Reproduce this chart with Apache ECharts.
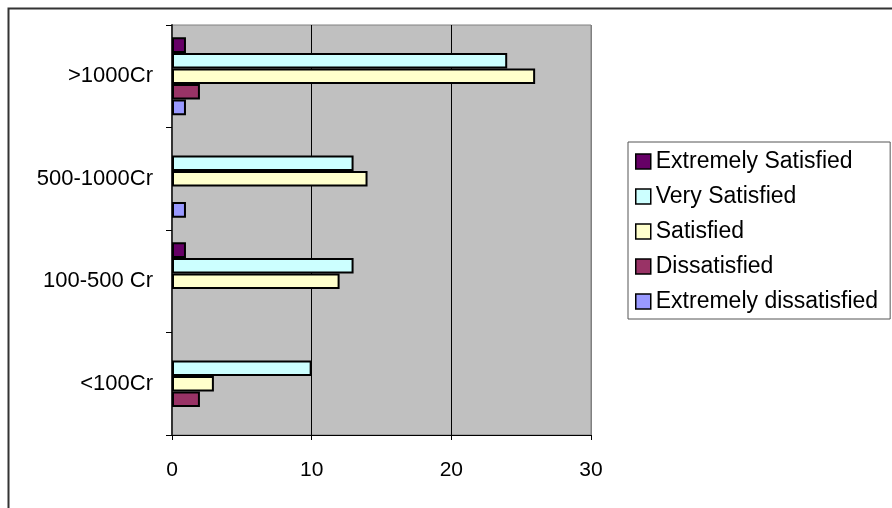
<!DOCTYPE html>
<html>
<head>
<meta charset="utf-8">
<script src="https://cdn.jsdelivr.net/npm/echarts@6/dist/echarts.min.js"></script>
<style>
  html, body { margin: 0; padding: 0; background: #ffffff; }
  #chart { width: 892px; height: 508px; }
</style>
</head>
<body>
<div id="chart"></div>
<script>
// Company turnover bands, listed bottom to top along the category axis
var categories = ['<100Cr', '100-500 Cr', '500-1000Cr', '>1000Cr'];

// Number of respondents per satisfaction level, in the order of categories
var extremelySatisfied    = [0, 1, 0, 1];
var verySatisfied         = [10, 13, 13, 24];
var satisfied             = [3, 12, 14, 26];
var dissatisfied          = [2, 0, 0, 2];
var extremelyDissatisfied = [0, 0, 1, 1];

var valueTicks = [0, 10, 20, 30];

// Series order runs top to bottom inside each group, same as the legend
var seriesDefs = [
  { name: 'Extremely Satisfied',    data: extremelySatisfied,    color: '#660066' },
  { name: 'Very Satisfied',         data: verySatisfied,         color: '#CCFFFF' },
  { name: 'Satisfied',              data: satisfied,             color: '#FFFFCC' },
  { name: 'Dissatisfied',           data: dissatisfied,          color: '#993366' },
  { name: 'Extremely dissatisfied', data: extremelyDissatisfied, color: '#9999FF' }
];

var FONT = '"Liberation Sans", Arial, sans-serif';

var chart = echarts.init(document.getElementById('chart'), null, { renderer: 'canvas' });

chart.setOption({
  animation: false,
  backgroundColor: '#ffffff',
  textStyle: { fontFamily: FONT },
  graphic: [{
    type: 'rect',
    left: 6, top: 6,
    shape: { width: 1000, height: 1000 },
    style: { fill: 'none', stroke: '#333333', lineWidth: 2 },
    silent: true
  }],
  grid: {
    left: 172, top: 25, width: 419, height: 410,
    show: true,
    backgroundColor: '#C0C0C0',
    borderColor: '#808080',
    borderWidth: 1
  },
  legend: {
    orient: 'vertical',
    left: 628, top: 142,
    data: seriesDefs.map(function (s) { return s.name; }),
    padding: [8, 12, 6, 7],
    itemGap: 12,
    itemWidth: 15,
    itemHeight: 15,
    icon: 'rect',
    itemStyle: { borderColor: '#000000', borderWidth: 1.5 },
    borderColor: '#555555',
    borderWidth: 1,
    backgroundColor: '#ffffff',
    textStyle: { fontFamily: FONT, fontSize: 23, color: '#000000' }
  },
  xAxis: {
    type: 'value',
    min: valueTicks[0],
    max: valueTicks[valueTicks.length - 1],
    interval: valueTicks[1] - valueTicks[0],
    axisLine: { show: true, lineStyle: { color: '#000000', width: 1 } },
    axisTick: { show: true, length: 5, lineStyle: { color: '#000000' } },
    axisLabel: { margin: 25, fontSize: 21, color: '#000000', fontFamily: FONT },
    splitLine: { show: true, lineStyle: { color: ['#000000', '#000000', '#000000', '#808080'], width: 1 } }
  },
  yAxis: {
    type: 'category',
    data: categories,
    axisLine: { show: true, lineStyle: { color: '#333333', width: 2 } },
    axisTick: { show: true, length: 6, lineStyle: { color: '#000000' } },
    axisLabel: { margin: 19, fontSize: 22, color: '#000000', fontFamily: FONT },
    splitLine: { show: false }
  },
  series: seriesDefs.map(function (s) {
    return {
      name: s.name,
      type: 'bar',
      data: s.data.map(function (v) { return v === 0 ? null : v; }),
      barGap: '0%',
      barCategoryGap: '24%',
      itemStyle: { color: s.color, borderColor: '#000000', borderWidth: 2 }
    };
  })
});
</script>
</body>
</html>
